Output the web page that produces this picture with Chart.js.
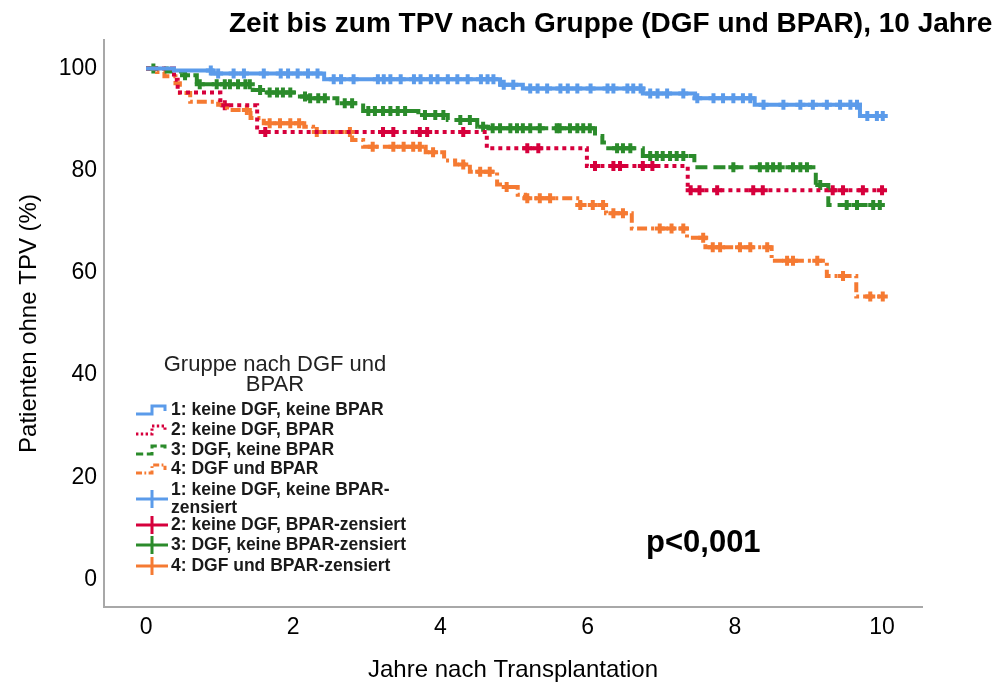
<!DOCTYPE html>
<html>
<head>
<meta charset="utf-8">
<script src="https://cdn.jsdelivr.net/npm/chart.js@4.4.1/dist/chart.umd.min.js"></script>
<style>
  html, body { margin: 0; padding: 0; background: #fff; }
  #wrap { width: 1000px; height: 682px; }
</style>
</head>
<body>
<div id="wrap"><canvas id="km"></canvas></div>
<script>
// Kaplan-Meier Daten (Jahre / % ohne TPV)
const g1Time = [0, 0.38, 0.9, 2.42, 4.81, 5.12, 6.75, 7.46, 8.27, 9.70, 10.02];
const g1Surv = [100, 99.6, 99.0, 97.9, 96.8, 96.1, 95.1, 94.2, 92.9, 90.7, 90.7];
const g1Cens = [0.88, 0.98, 1.19, 1.33, 1.60, 1.83, 1.93, 2.06, 2.20, 2.33, 2.55, 2.65, 2.82, 3.15, 3.23, 3.32,
  3.46, 3.64, 3.73, 3.87, 3.96, 4.10, 4.23, 4.37, 4.55, 4.64, 4.72, 4.86, 4.99, 5.22, 5.32, 5.45, 5.63, 5.73,
  5.86, 6.04, 6.27, 6.35, 6.54, 6.62, 6.72, 6.85, 6.95, 7.08, 7.30, 7.49, 7.71, 7.84, 7.98, 8.11, 8.21, 8.39,
  8.66, 8.89, 9.06, 9.25, 9.43, 9.57, 9.66, 9.80, 9.93, 10.01];

const g2Time = [0, 0.38, 0.43, 1.01, 1.51, 4.63, 5.99, 7.36, 10.03];
const g2Surv = [100, 97.8, 95.3, 92.8, 87.6, 84.4, 80.9, 76.2, 76.2];
const g2Cens = [1.07, 1.62, 3.22, 3.36, 3.72, 3.82, 4.31, 5.18, 5.33, 6.10, 6.35, 6.44, 6.75, 6.88, 7.40, 7.52,
  7.76, 8.25, 8.38, 9.33, 9.47, 9.74, 10.0];

const g3Time = [0, 0.28, 0.53, 0.69, 1.45, 1.62, 2.05, 2.2, 2.6, 2.95, 3.7, 4.1, 4.5, 4.65, 6.1, 6.2, 6.28,
  6.75, 7.45, 9.1, 9.27, 10.03];
const g3Surv = [100, 99.4, 98.7, 96.9, 95.8, 95.3, 94.5, 94.2, 93.2, 91.7, 90.9, 89.9, 88.6, 88.3, 86.8, 85.5,
  84.4, 82.9, 80.7, 77.2, 73.3, 73.3];
const g3Cens = [0.10, 0.53, 0.73, 0.96, 1.07, 1.14, 1.25, 1.35, 1.41, 1.55, 1.68, 1.78, 1.86, 1.96, 2.16, 2.23,
  2.34, 2.43, 2.70, 2.80, 3.02, 3.11, 3.22, 3.32, 3.42, 3.52, 3.79, 3.93, 4.04, 4.27, 4.40, 4.58, 4.71, 4.81,
  4.95, 5.04, 5.12, 5.22, 5.35, 5.58, 5.62, 5.76, 5.86, 5.94, 6.03, 6.40, 6.48, 6.58, 6.85, 6.94, 7.02, 7.12,
  7.21, 7.30, 7.98, 8.34, 8.44, 8.52, 8.61, 8.79, 8.89, 8.98, 9.16, 9.52, 9.66, 9.88, 9.97];

const g4Time = [0, 0.15, 0.25, 0.4, 0.46, 0.6, 0.98, 1.1, 1.42, 1.6, 2.15, 2.27, 2.8, 2.95, 3.8, 4.05, 4.2,
  4.4, 4.77, 4.85, 5.05, 5.15, 5.9, 6.25, 6.6, 7.35, 7.6, 8.5, 9.25, 9.65, 10.03];
const g4Surv = [100, 99.3, 98.5, 97.1, 95.2, 93.5, 92.9, 91.9, 90.3, 89.3, 88.6, 87.6, 86.0, 84.7, 83.6, 82.0,
  81.2, 79.8, 77.3, 76.8, 75.3, 74.6, 73.3, 71.7, 68.7, 66.9, 65.0, 62.4, 59.4, 55.4, 55.4];
const g4Cens = [1.37, 1.68, 1.82, 1.96, 2.08, 2.32, 2.77, 3.08, 3.36, 3.5, 3.63, 3.72, 3.9, 4.31, 4.54, 4.67,
  4.90, 5.18, 5.35, 5.49, 5.90, 6.07, 6.21, 6.35, 6.48, 6.98, 7.14, 7.30, 7.57, 7.70, 7.80, 8.07, 8.21, 8.44,
  8.71, 8.79, 9.12, 9.47, 9.84, 10.01];

const xTicks = [0, 2, 4, 6, 8, 10];
const yTicks = [0, 20, 40, 60, 80, 100];

const groupNames = ['1: keine DGF, keine BPAR', '2: keine DGF, BPAR', '3: DGF, keine BPAR', '4: DGF und BPAR'];
const groupColors = ['#5b9bea', '#d6003c', '#2b8b2b', '#f57a32'];
const groupDash = [[], [4, 4], [12, 6], [10, 4, 3, 4]];

const FONT = "'Liberation Sans', Arial, sans-serif";

// Stufenwert zum Zeitpunkt t (fuer die Zensierungsmarken)
function valueAt(times, surv, t) {
    let v = surv[0];
    for (let i = 0; i < times.length; i++) {
        if (times[i] <= t) v = surv[i];
    }
    return v;
}

const groups = [
    [g1Time, g1Surv, g1Cens],
    [g2Time, g2Surv, g2Cens],
    [g3Time, g3Surv, g3Cens],
    [g4Time, g4Surv, g4Cens],
];

const datasets = [];
groups.forEach(([times, surv], i) => {
    datasets.push({
        label: groupNames[i],
        data: times.map((t, k) => ({ x: t, y: surv[k] })),
        showLine: true,
        stepped: 'before',
        borderColor: groupColors[i],
        borderWidth: 4,
        borderDash: groupDash[i],
        pointRadius: 0,
        fill: false,
    });
});
groups.forEach(([times, surv, cens], i) => {
    datasets.push({
        label: groupNames[i] + '-zensiert',
        data: cens.map(t => ({ x: t, y: valueAt(times, surv, t) })),
        showLine: false,
        pointStyle: 'cross',
        pointRadius: 5,
        pointBorderWidth: 4,
        borderColor: groupColors[i],
        backgroundColor: groupColors[i],
    });
});

// Titel, p-Wert und SPSS-artige Legende direkt auf den Canvas
const decorPlugin = {
    id: 'kmDecor',
    afterDraw(chart) {
        const ctx = chart.ctx;
        ctx.save();
        ctx.fillStyle = '#000';
        ctx.textAlign = 'left';
        ctx.textBaseline = 'alphabetic';
        ctx.font = 'bold 28px ' + FONT;
        ctx.fillText('Zeit bis zum TPV nach Gruppe (DGF und BPAR), 10 Jahre', 229, 32);

        ctx.font = 'bold 31px ' + FONT;
        ctx.fillText('p<0,001', 646, 552);

        // Legendentitel
        ctx.textAlign = 'center';
        ctx.textBaseline = 'middle';
        ctx.fillStyle = '#222';
        ctx.font = '22px ' + FONT;
        ctx.fillText('Gruppe nach DGF und', 275, 365);
        ctx.fillText('BPAR', 275, 385);

        ctx.textAlign = 'left';
        ctx.font = 'bold 17.5px ' + FONT;
        ctx.fillStyle = '#1a1a1a';
        const lineY = [410, 430, 450, 469];
        lineY.forEach((y, i) => {
            ctx.save();
            ctx.strokeStyle = groupColors[i];
            ctx.lineWidth = 3;
            ctx.setLineDash(groupDash[i].map(d => d * 0.6));
            ctx.beginPath();
            ctx.moveTo(136, y + 4);
            ctx.lineTo(152, y + 4);
            ctx.lineTo(152, y - 4);
            ctx.lineTo(165, y - 4);
            ctx.lineTo(165, y + 1);
            ctx.stroke();
            ctx.restore();
            ctx.fillText(groupNames[i], 171, y);
        });

        const censY = [499, 525, 545, 566];
        censY.forEach((y, i) => {
            ctx.save();
            ctx.strokeStyle = groupColors[i];
            ctx.lineWidth = 3;
            ctx.beginPath();
            ctx.moveTo(136, y);
            ctx.lineTo(168, y);
            ctx.moveTo(152, y - 9);
            ctx.lineTo(152, y + 9);
            ctx.stroke();
            ctx.restore();
            if (i === 0) {
                ctx.fillText(groupNames[0] + '-', 171, 490);
                ctx.fillText('zensiert', 171, 508);
            } else {
                ctx.fillText(groupNames[i] + '-zensiert', 171, y);
            }
        });
        ctx.restore();
    },
};

new Chart(document.getElementById('km'), {
    type: 'scatter',
    data: { datasets },
    plugins: [decorPlugin],
    options: {
        responsive: true,
        maintainAspectRatio: false,
        animation: false,
        devicePixelRatio: 1,
        events: [],
        layout: { padding: { top: 40, right: 78, bottom: 0, left: 0 } },
        plugins: { legend: { display: false }, title: { display: false }, tooltip: { enabled: false } },
        scales: {
            x: {
                type: 'linear',
                min: -0.571,
                max: 10.543,
                afterBuildTicks: (s) => { s.ticks = xTicks.map(v => ({ value: v })); },
                afterFit: (s) => { s.height = 75; },
                grid: { display: false, drawTicks: false },
                border: { display: true, color: '#a8a8a8', width: 2 },
                ticks: { color: '#000', padding: 7, font: { family: FONT, size: 23 } },
                title: {
                    display: true,
                    text: 'Jahre nach Transplantation',
                    color: '#000',
                    font: { family: FONT, size: 24, lineHeight: 1 },
                    padding: { top: 0, bottom: 0 },
                },
            },
            y: {
                type: 'linear',
                min: -5.38,
                max: 105.58,
                afterBuildTicks: (s) => { s.ticks = yTicks.map(v => ({ value: v })); },
                afterFit: (s) => { s.width = 104; },
                grid: { display: false, drawTicks: false },
                border: { display: true, color: '#a8a8a8', width: 2 },
                ticks: { color: '#000', padding: 7, font: { family: FONT, size: 23 } },
                title: {
                    display: true,
                    text: 'Patienten ohne TPV (%)',
                    color: '#000',
                    font: { family: FONT, size: 24, lineHeight: 1 },
                    padding: { top: 17, bottom: 0 },
                },
            },
        },
    },
});
</script>
</body>
</html>
